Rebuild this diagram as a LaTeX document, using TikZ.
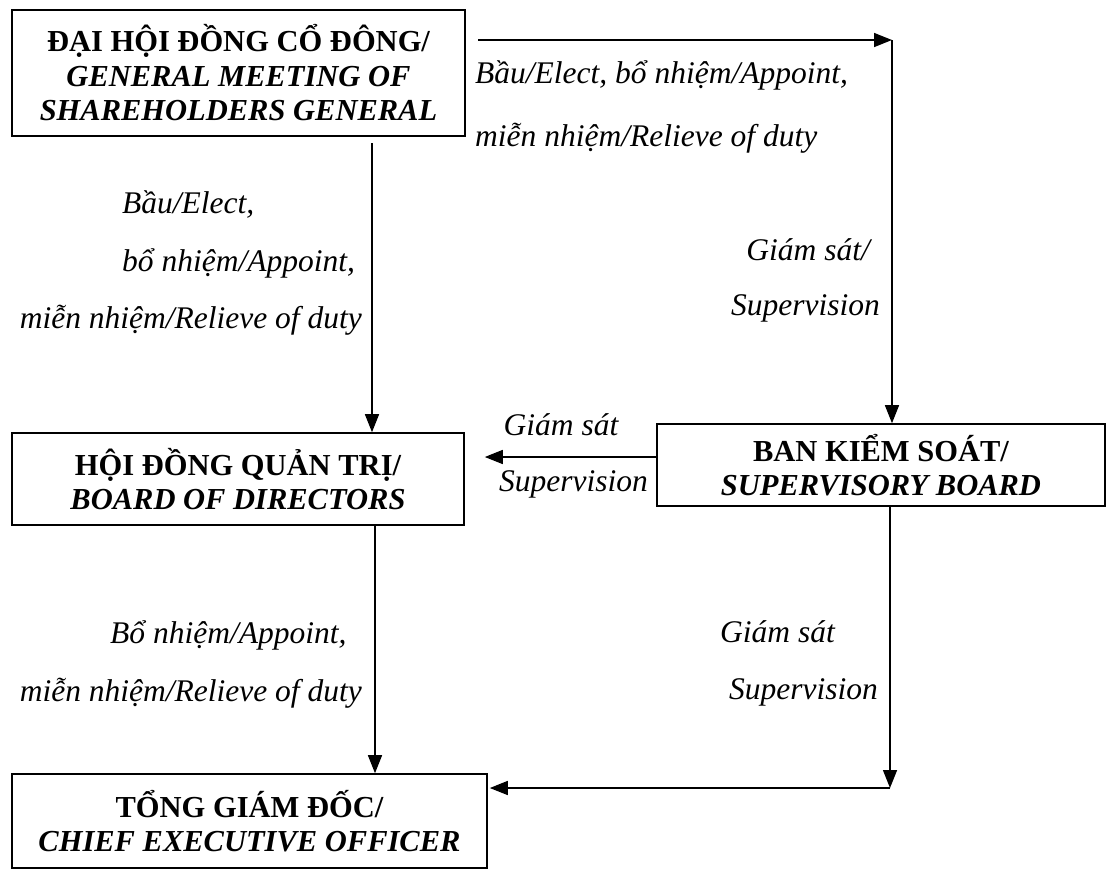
\documentclass[tikz,border=0pt]{standalone}
\usepackage{fontspec}
\setmainfont{Liberation Serif}
\usetikzlibrary{arrows.meta}
\begin{document}
\begin{tikzpicture}[x=1pt,y=-1pt,
  box/.style={draw, line width=1.6pt, inner sep=0pt, align=center, font=\fontsize{30.5}{34.5}\selectfont\bfseries},
  lbl/.style={inner sep=0pt, font=\fontsize{31.5}{34}\selectfont\itshape},
  conn/.style={line width=1.5pt, -{Triangle[length=18pt,width=14pt]}}]
\useasboundingbox (0,0) rectangle (1108,871);
\fill[white] (0,0) rectangle (1108,871);
% boxes
\node[box, minimum width=453pt, minimum height=126pt] (dh) at (238.5,73) {ĐẠI HỘI ĐỒNG CỔ ĐÔNG/\\ \textit{GENERAL MEETING OF}\\ \textit{SHAREHOLDERS GENERAL}};
\node[box, minimum width=452pt, minimum height=92pt] (hd) at (238,479) {HỘI ĐỒNG QUẢN TRỊ/\\ \textit{BOARD OF DIRECTORS}};
\node[box, minimum width=448pt, minimum height=82pt] (bks) at (881,465) {BAN KIỂM SOÁT/\\ \textit{SUPERVISORY BOARD}};
\node[box, minimum width=475pt, minimum height=94pt] (tgd) at (249.5,821) {TỔNG GIÁM ĐỐC/\\ \textit{CHIEF EXECUTIVE OFFICER}};
% coordinates
\coordinate (topstart) at (478,40);
\coordinate (topcorner) at (892,40);
\coordinate (dhdown) at (372,143);
\coordinate (bksleft) at (657,457);
\coordinate (bkscorner) at (890,788);
% connectors
\draw[conn] (topstart) -- (topcorner);
\draw[conn] (topcorner) -- (topcorner |- bks.north);
\draw[conn] (dhdown) -- (dhdown |- hd.north);
\draw[conn] (hd.south -| 375,0) -- (tgd.north -| 375,0);
\draw[conn] (bks.west |- bksleft) -- ([xshift=20pt]hd.east |- bksleft);
\draw[conn] (bks.south -| bkscorner) -- (bkscorner);
\draw[conn] (bkscorner) -- ([xshift=2pt]tgd.east |- bkscorner);
% labels
\node[lbl, anchor=west] (l1) at (475,75) {Bầu/Elect, bổ nhiệm/Appoint,};
\node[lbl, anchor=west] (l2) at (475,138) {miễn nhiệm/Relieve of duty};
\node[lbl, anchor=west] (l3) at (122,205) {Bầu/Elect,};
\node[lbl, anchor=west] (l4) at (122,263) {bổ nhiệm/Appoint,};
\node[lbl, anchor=east] (l5) at (362,320) {miễn nhiệm/Relieve of duty};
\node[lbl, anchor=east] (l6) at (870,250) {Giám sát/};
\node[lbl, anchor=east] (l7) at (880,308) {Supervision};
\node[lbl] (l8) at (561,425) {Giám sát};
\node[lbl, anchor=east] (l9) at (648,484) {Supervision};
\node[lbl, anchor=west] (l10) at (110,635) {Bổ nhiệm/Appoint,};
\node[lbl, anchor=east] (l11) at (362,693) {miễn nhiệm/Relieve of duty};
\node[lbl, anchor=west] (l12) at (720,632) {Giám sát};
\node[lbl, anchor=east] (l13) at (878,692) {Supervision};
\end{tikzpicture}
\end{document}
